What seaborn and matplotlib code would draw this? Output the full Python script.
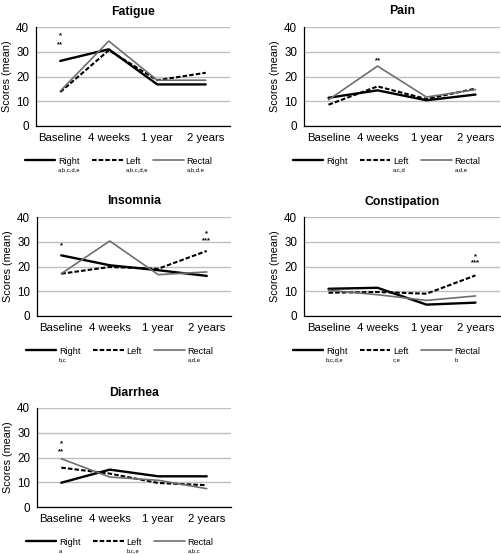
import matplotlib
matplotlib.use("Agg")
import matplotlib.pyplot as plt
import pandas as pd
import seaborn as sns

# -----------------------------------------------------------------------------
# Data (mean scores)
# -----------------------------------------------------------------------------
timepoints = ["Baseline", "4 weeks", "1 year", "2 years"]
groups = ["Right", "Left", "Rectal"]

fatigue_right = [26.3, 31.0, 16.8, 16.8]
fatigue_left = [13.7, 30.6, 18.5, 21.5]
fatigue_rectal = [14.1, 34.3, 18.5, 18.5]

pain_right = [11.4, 14.4, 10.4, 12.7]
pain_left = [8.6, 16.0, 10.9, 15.1]
pain_rectal = [10.6, 24.2, 11.7, 14.7]

insomnia_right = [24.5, 20.5, 18.5, 16.2]
insomnia_left = [17.1, 19.8, 19.1, 26.3]
insomnia_rectal = [17.1, 30.3, 16.7, 17.8]

constipation_right = [11.0, 11.4, 4.6, 5.4]
constipation_left = [9.4, 9.7, 9.0, 16.4]
constipation_rectal = [10.4, 8.6, 6.3, 8.1]

diarrhea_right = [9.8, 15.1, 12.4, 12.4]
diarrhea_left = [15.9, 13.5, 9.7, 8.8]
diarrhea_rectal = [19.5, 12.1, 10.8, 7.4]

# significance letters shown under each legend label
fatigue_letters = ["a,b,c,d,e", "a,b,c,d,e", "a,b,d,e"]
pain_letters = ["", "a,c,d", "a,d,e"]
insomnia_letters = ["b,c", "", "a,d,e"]
constipation_letters = ["b,c,d,e", "c,e", "b"]
diarrhea_letters = ["a", "b,c,e", "a,b,c"]

# asterisk annotations: (timepoint, score level, text)
fatigue_stars = [("Baseline", 36.4, "*"), ("Baseline", 32.7, "**")]
pain_stars = [("4 weeks", 26.5, "**")]
insomnia_stars = [("Baseline", 28.3, "*"), ("2 years", 33.2, "*"), ("2 years", 30.6, "***")]
constipation_stars = [("2 years", 24.1, "*"), ("2 years", 21.4, "***")]
diarrhea_stars = [("Baseline", 25.6, "*"), ("Baseline", 22.2, "**")]

panels = [
    ("Fatigue", [fatigue_right, fatigue_left, fatigue_rectal], fatigue_letters, fatigue_stars),
    ("Pain", [pain_right, pain_left, pain_rectal], pain_letters, pain_stars),
    ("Insomnia", [insomnia_right, insomnia_left, insomnia_rectal], insomnia_letters, insomnia_stars),
    ("Constipation", [constipation_right, constipation_left, constipation_rectal],
     constipation_letters, constipation_stars),
    ("Diarrhea", [diarrhea_right, diarrhea_left, diarrhea_rectal], diarrhea_letters, diarrhea_stars),
]

# -----------------------------------------------------------------------------
# Style
# -----------------------------------------------------------------------------
sns.set_theme(style="white")
plt.rcParams["font.family"] = ["Liberation Sans", "DejaVu Sans"]
plt.rcParams["text.color"] = "black"
plt.rcParams["axes.labelcolor"] = "black"
plt.rcParams["xtick.color"] = "black"
plt.rcParams["ytick.color"] = "black"

palette = {"Right": "#000000", "Left": "#000000", "Rectal": "#6e6e6e"}
dashes = {"Right": "", "Left": (2.2, 1.0), "Rectal": ""}
sizes = {"Right": 1.7, "Left": 1.5, "Rectal": 1.2}

W, H = 502, 554
fig = plt.figure(figsize=(W / 100, H / 100), dpi=100)

# axes boxes in pixels: left, top, width, height
boxes = [(36, 27, 194, 99), (304, 27, 196, 99),
         (37, 217, 194, 99), (304, 217, 196, 99),
         (37, 408, 194, 99)]


def make_frame(values):
    rows = []
    for g, vals in zip(groups, values):
        for t, v in zip(timepoints, vals):
            rows.append({"time": t, "score": v, "group": g})
    return pd.DataFrame(rows)


sub_texts = []
for (title, values, letters, stars), (l, t, w, h) in zip(panels, boxes):
    ax = fig.add_axes([l / W, 1 - (t + h) / H, w / W, h / H])
    df = make_frame(values)
    sns.lineplot(data=df, x="time", y="score", hue="group", style="group", size="group",
                 hue_order=groups, style_order=groups, size_order=groups,
                 palette=palette, dashes=dashes, sizes=sizes, legend=False, ax=ax)

    ax.set_xlim(-0.5, 3.5)
    ax.set_ylim(0, 40)
    ax.set_yticks([0, 10, 20, 30, 40])
    ax.yaxis.grid(True, color="#bfbfbf", linewidth=1.0)
    ax.set_axisbelow(True)
    for side in ["top", "right"]:
        ax.spines[side].set_visible(False)
    for side in ["left", "bottom"]:
        ax.spines[side].set_color("black")
        ax.spines[side].set_linewidth(0.9)
    ax.tick_params(axis="y", length=0, pad=5, labelsize=8.4)
    ax.tick_params(axis="x", length=3, direction="inout", width=0.8, color="black",
                   pad=3.5, labelsize=8.2)
    ax.set_xlabel("")
    ax.set_ylabel("Scores (mean)", fontsize=7.8, labelpad=3)
    ax.set_title(title, fontsize=8.8, fontweight="bold", pad=9)

    for tp, lvl, txt in stars:
        ax.text(timepoints.index(tp), lvl, txt, ha="center", va="center",
                fontsize=5.5, fontweight="bold")

    leg = ax.legend(ax.get_lines()[:3], groups, loc="center left",
                    bbox_to_anchor=(-0.057, -0.355), ncol=3, frameon=False,
                    fontsize=6.6, handlelength=3.3, handletextpad=0.3,
                    columnspacing=1.4, borderpad=0, borderaxespad=0)
    sub_texts.append((leg, letters))

fig.canvas.draw()
renderer = fig.canvas.get_renderer()
for leg, letters in sub_texts:
    for txt, sub in zip(leg.get_texts(), letters):
        if not sub:
            continue
        bb = txt.get_window_extent(renderer)
        fig.text(bb.x0 / W, (bb.y0 - 2) / H, sub, fontsize=4.2, ha="left", va="top")

fig.savefig("out.png", dpi=100)
